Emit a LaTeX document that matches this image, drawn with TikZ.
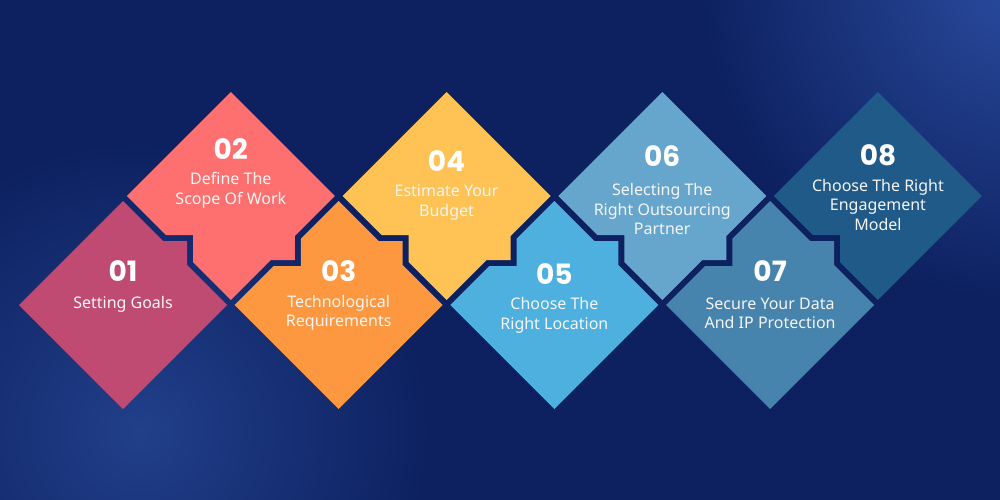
\documentclass[tikz,border=0pt]{standalone}
\usepackage{fontspec}
\setmainfont{Noto Sans}
\newfontfamily\numfont{Poppins}
\definecolor{bgbase}{HTML}{0D2160}
\definecolor{bgglowA}{HTML}{213F8A}
\definecolor{bgglowB}{HTML}{2A4B9E}
\definecolor{cA}{HTML}{C04B72}
\definecolor{cB}{HTML}{FE6F6F}
\definecolor{cC}{HTML}{FE9840}
\definecolor{cD}{HTML}{FEC354}
\definecolor{cE}{HTML}{4EB0DE}
\definecolor{cF}{HTML}{67A6CC}
\definecolor{cG}{HTML}{4683AD}
\definecolor{cH}{HTML}{1F5A88}
\tikzset{
  numlabel/.style={text=white, font=\numfont\bfseries\fontsize{28}{30}\selectfont, inner sep=0pt, anchor=center},
  steplabel/.style={text=white!96!black, font=\fontsize{16}{19.5}\selectfont, align=center, inner sep=0pt, anchor=center},
}
\begin{document}
\begin{tikzpicture}[x=1pt,y=-1pt]
% background
\fill[bgbase] (0,0) rectangle (1000,500);
\begin{scope}
\clip (0,0) rectangle (1000,500);
\shade[inner color=bgglowA, outer color=bgbase] (140,430) circle (290);
\shade[inner color=bgglowB, outer color=bgbase] (1020,-20) circle (320);
\end{scope}
\useasboundingbox (0,0) rectangle (1000,500);

% ---------- tile 01 (low) ----------
\begin{scope}[shift={(123,305)}]
\fill[cA] (0,-104) -- (40,-64) -- (64,-64) -- (64,-40) -- (104,0) -- (0,104) -- (-104,0) -- cycle;
\node[numlabel] (n1) at (0,-34) {01};
\node[steplabel] (t1) at (0,-1) {Setting Goals};
\end{scope}

% ---------- tile 02 (high) ----------
\begin{scope}[shift={(230.85,196)}]
\fill[cB] (0,-104) -- (104,0) -- (64,40) -- (64,64) -- (40,64) -- (0,104)
  -- (-37.85,66.15) -- (-37.85,39) -- (-65,39) -- (-104,0) -- cycle;
\node[numlabel] (n2) at (0,-47) {02};
\node[steplabel] (t2) at (0,-5.5) {Define The\\Scope Of Work};
\end{scope}

% ---------- tile 03 (low) ----------
\begin{scope}[shift={(338.7,305)}]
\fill[cC] (0,-104) -- (40,-64) -- (64,-64) -- (64,-40) -- (104,0) -- (0,104) -- (-104,0)
  -- (-65,-39) -- (-37.85,-39) -- (-37.85,-66.15) -- cycle;
\node[numlabel] (n3) at (0,-34) {03};
\node[steplabel] (t3) at (0,8) {Technological\\Requirements};
\end{scope}

% ---------- tile 04 (high) ----------
\begin{scope}[shift={(446.55,196)}]
\fill[cD] (0,-104) -- (104,0) -- (64,40) -- (64,64) -- (40,64) -- (0,104)
  -- (-37.85,66.15) -- (-37.85,39) -- (-65,39) -- (-104,0) -- cycle;
\node[numlabel] (n4) at (0,-35) {04};
\node[steplabel] (t4) at (0,6.5) {Estimate Your\\Budget};
\end{scope}

% ---------- tile 05 (low) ----------
\begin{scope}[shift={(554.4,305)}]
\fill[cE] (0,-104) -- (40,-64) -- (64,-64) -- (64,-40) -- (104,0) -- (0,104) -- (-104,0)
  -- (-65,-39) -- (-37.85,-39) -- (-37.85,-66.15) -- cycle;
\node[numlabel] (n5) at (0,-31) {05};
\node[steplabel] (t5) at (0,10.5) {Choose The\\Right Location};
\end{scope}

% ---------- tile 06 (high) ----------
\begin{scope}[shift={(662.25,196)}]
\fill[cF] (0,-104) -- (104,0) -- (64,40) -- (64,64) -- (40,64) -- (0,104)
  -- (-37.85,66.15) -- (-37.85,39) -- (-65,39) -- (-104,0) -- cycle;
\node[numlabel] (n6) at (0,-40) {06};
\node[steplabel] (t6) at (0,13) {Selecting The\\Right Outsourcing\\Partner};
\end{scope}

% ---------- tile 07 (low) ----------
\begin{scope}[shift={(770.1,305)}]
\fill[cG] (0,-104) -- (40,-64) -- (64,-64) -- (64,-40) -- (104,0) -- (0,104) -- (-104,0)
  -- (-65,-39) -- (-37.85,-39) -- (-37.85,-66.15) -- cycle;
\node[numlabel] (n7) at (0,-34) {07};
\node[steplabel] (t7) at (0,8.5) {Secure Your Data\\And IP Protection};
\end{scope}

% ---------- tile 08 (high) ----------
\begin{scope}[shift={(877.95,196)}]
\fill[cH] (0,-104) -- (104,0) -- (0,104)
  -- (-37.85,66.15) -- (-37.85,39) -- (-65,39) -- (-104,0) -- cycle;
\node[numlabel] (n8) at (0,-41) {08};
\node[steplabel] (t8) at (0,8.5) {Choose The Right\\Engagement\\Model};
\end{scope}
\end{tikzpicture}
\end{document}
